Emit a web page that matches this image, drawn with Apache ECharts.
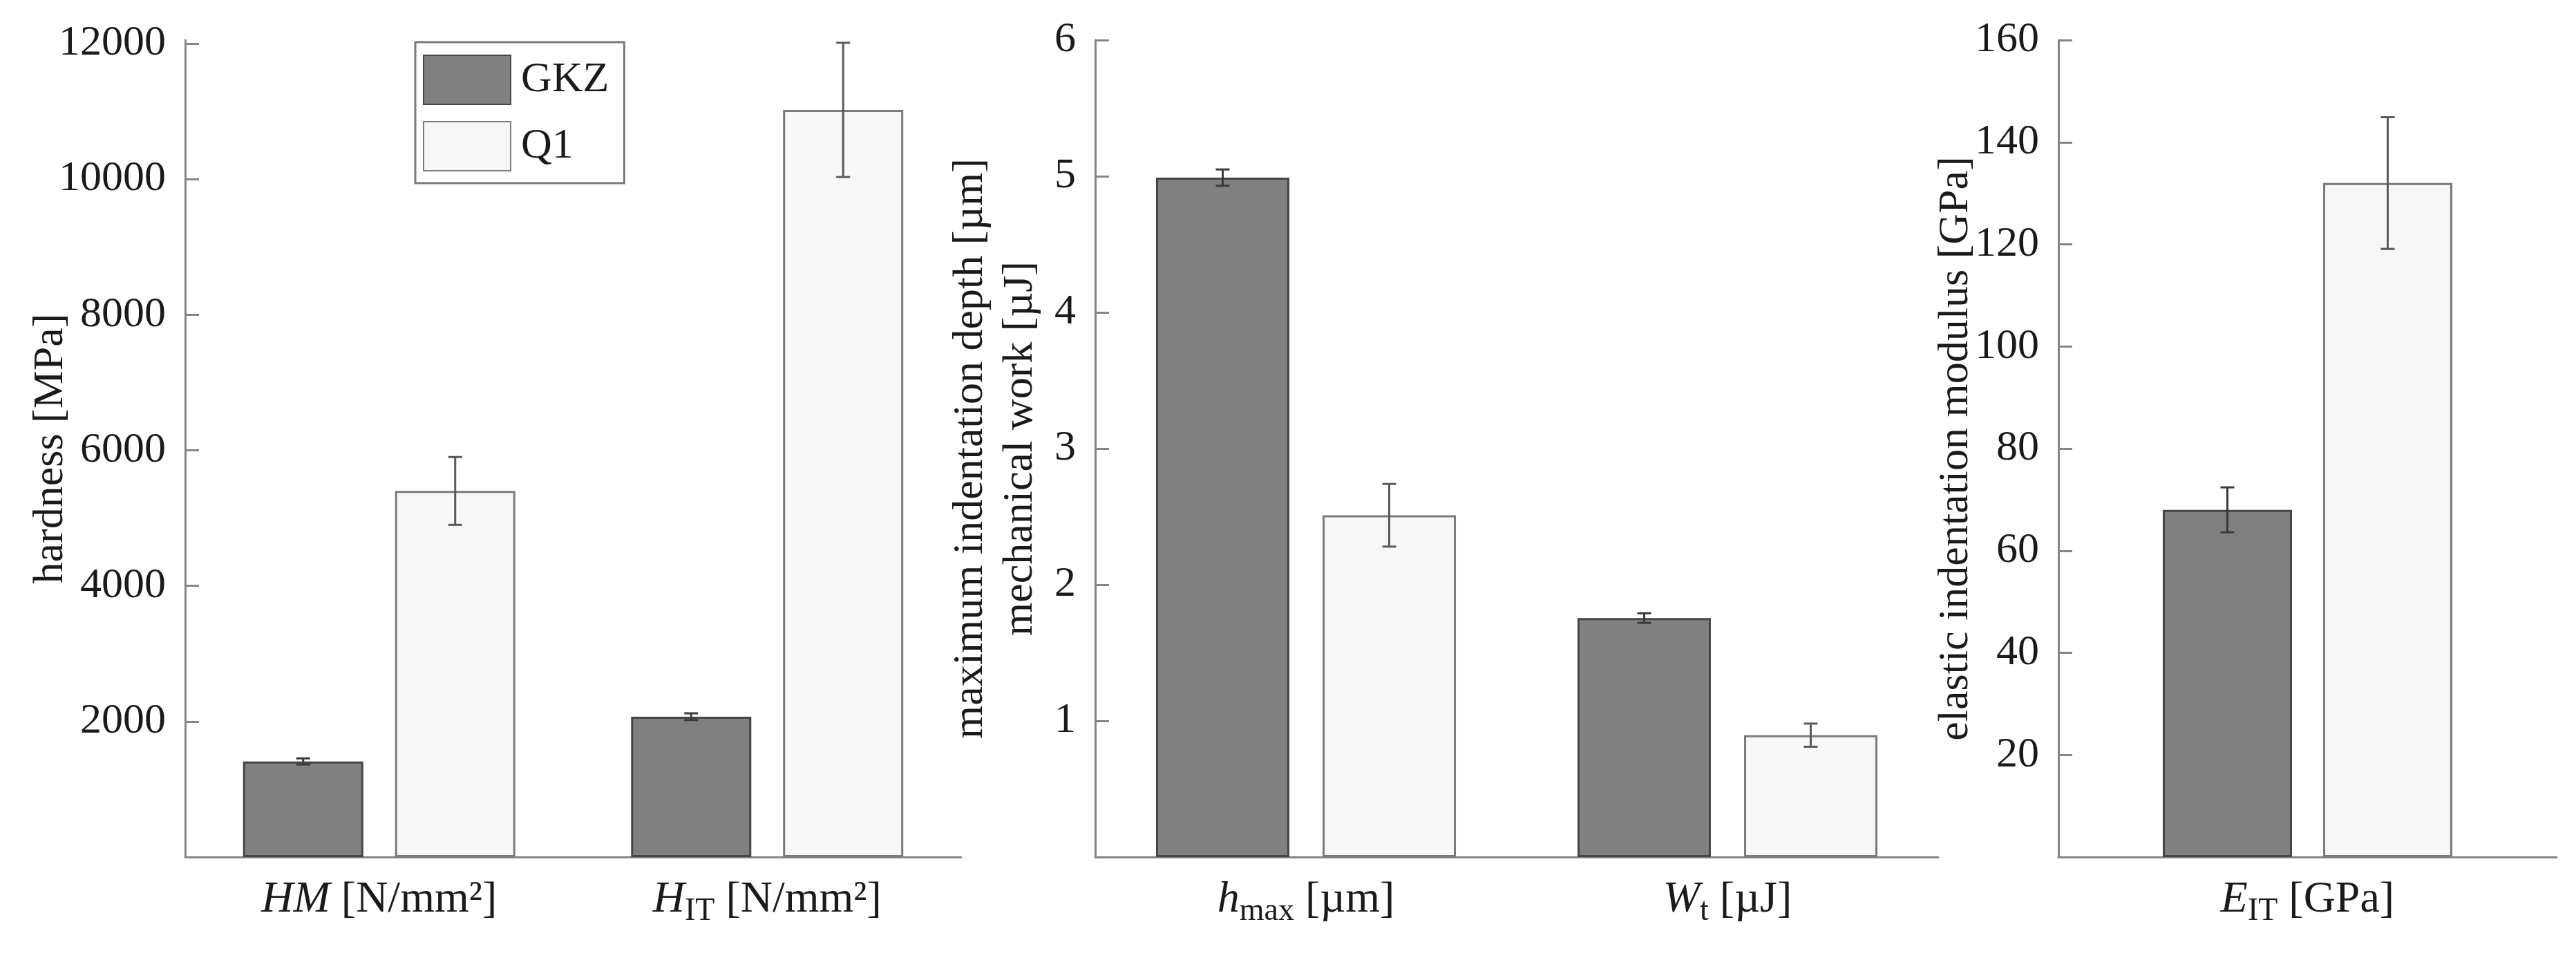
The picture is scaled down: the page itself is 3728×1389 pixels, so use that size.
<!DOCTYPE html>
<html>
<head>
<meta charset="utf-8">
<title>GKZ vs Q1 indentation</title>
<script src="https://cdn.jsdelivr.net/npm/echarts@6/dist/echarts.min.js"></script>
<style>
    html, body { margin: 0; padding: 0; background: #fff; }
    #chart { width: 3728px; height: 1389px; }
</style>
</head>
<body>
<div id="chart"></div>
<script>
// ---- data ----
var seriesNames = ['GKZ', 'Q1'];

// panel 1: hardness
var hardnessCats = ['{i|HM} [N/mm²]', '{i|H}{sub|IT} [N/mm²]'];
var hardnessGkz = [1410, 2070];
var hardnessGkzErr = [45, 50];
var hardnessQ1 = [5400, 11020];
var hardnessQ1Err = [500, 990];
var hardnessTicks = [2000, 4000, 6000, 8000, 10000, 12000];

// panel 2: depth / work
var depthCats = ['{i|h}{sub|max} [µm]', '{i|W}{sub|t} [µJ]'];
var depthGkz = [4.99, 1.755];
var depthGkzErr = [0.06, 0.035];
var depthQ1 = [2.51, 0.895];
var depthQ1Err = [0.23, 0.085];
var depthTicks = [1, 2, 3, 4, 5, 6];

// panel 3: modulus
var modulusCats = ['{i|E}{sub|IT} [GPa]'];
var modulusGkz = [68.0];
var modulusGkzErr = [4.4];
var modulusQ1 = [132];
var modulusQ1Err = [12.9];
var modulusTicks = [20, 40, 60, 80, 100, 120, 140, 160];

var FONT = 'Liberation Serif';
var AXIS_GREY = '#858585';

var chart = echarts.init(document.getElementById('chart'), null, {renderer: 'canvas'});

// pixel geometry of each panel (bar width, gap between the two bars)
var panels = [
    {left: 268, width: 1123, barW: 174, gap: 46, max: 12050, interval: 2000,
        name: 'hardness [MPa]', nameGap: 158,
        cats: hardnessCats, gkz: hardnessGkz, gkzErr: hardnessGkzErr, q1: hardnessQ1, q1Err: hardnessQ1Err, ticks: hardnessTicks},
    {left: 1585, width: 1220, barW: 193, gap: 48, max: 6, interval: 1,
        name: 'maximum indentation depth [µm]\nmechanical work [µJ]', nameGap: 72,
        cats: depthCats, gkz: depthGkz, gkzErr: depthGkzErr, q1: depthQ1, q1Err: depthQ1Err, ticks: depthTicks},
    {left: 2979, width: 721, barW: 187, gap: 45, max: 160, interval: 20,
        name: 'elastic indentation modulus [GPa]', nameGap: 112,
        cats: modulusCats, gkz: modulusGkz, gkzErr: modulusGkzErr, q1: modulusQ1, q1Err: modulusQ1Err, ticks: modulusTicks}
];

// error bar drawer, shifted sideways onto the matching bar
function errorBarRender(offset, color) {
    return function (params, api) {
        var i = api.value(0);
        var m = api.value(1);
        var e = api.value(2);
        var hi = api.coord([i, m + e]);
        var lo = api.coord([i, m - e]);
        var x = hi[0] + offset;
        var hw = 10;
        var st = {stroke: color, lineWidth: 3};
        return {
            type: 'group',
            children: [
                {type: 'line', shape: {x1: x, y1: hi[1], x2: x, y2: lo[1]}, style: st},
                {type: 'line', shape: {x1: x - hw, y1: hi[1], x2: x + hw, y2: hi[1]}, style: st},
                {type: 'line', shape: {x1: x - hw, y1: lo[1], x2: x + hw, y2: lo[1]}, style: st}
            ]
        };
    };
}

var grids = [], xAxes = [], yAxes = [], series = [];

panels.forEach(function (p, k) {
    grids.push({left: p.left, width: p.width, top: 58, bottom: 149});

    xAxes.push({
        type: 'category',
        gridIndex: k,
        data: p.cats,
        axisLine: {lineStyle: {color: AXIS_GREY, width: 3}},
        axisTick: {alignWithLabel: true, inside: true, length: 22, lineStyle: {color: '#8a8a8a', width: 3}},
        axisLabel: {
            interval: 0,
            hideOverlap: false,
            margin: 22,
            color: '#1a1a1a',
            fontFamily: FONT,
            fontSize: 64,
            lineHeight: 80,
            rich: {
                i: {fontStyle: 'italic', fontFamily: FONT, fontSize: 64, lineHeight: 80, color: '#1a1a1a'},
                sub: {fontFamily: FONT, fontSize: 46, lineHeight: 46, verticalAlign: 'bottom', color: '#1a1a1a'}
            }
        }
    });

    yAxes.push({
        type: 'value',
        gridIndex: k,
        min: 0,
        max: p.max,
        interval: p.interval,
        splitLine: {show: false},
        axisLine: {show: true, lineStyle: {color: AXIS_GREY, width: 3}},
        axisTick: {show: true, inside: true, length: 20, customValues: p.ticks, lineStyle: {color: AXIS_GREY, width: 3}},
        axisLabel: {
            customValues: p.ticks, margin: 28, color: '#1a1a1a', fontFamily: FONT, fontSize: 62,
            formatter: function (v) { return String(v); }
        },
        name: p.name,
        nameLocation: 'middle',
        nameGap: p.nameGap,
        nameMoveOverlap: false,
        nameTextStyle: {fontFamily: FONT, fontSize: 62, lineHeight: 72, color: '#1a1a1a'}
    });

    var gapPct = (p.gap / p.barW * 100).toFixed(1) + '%';
    var shift = (p.barW + p.gap) / 2;

    series.push({
        name: seriesNames[0], type: 'bar', xAxisIndex: k, yAxisIndex: k,
        barWidth: p.barW, barGap: gapPct,
        itemStyle: {color: '#808080', borderColor: '#454545', borderWidth: 3},
        data: p.gkz
    });
    series.push({
        name: seriesNames[1], type: 'bar', xAxisIndex: k, yAxisIndex: k,
        barWidth: p.barW, barGap: gapPct,
        itemStyle: {color: '#f7f7f7', borderColor: '#7a7a7a', borderWidth: 3},
        data: p.q1
    });

    // error bars
    series.push({
        name: 'errGKZ' + k, type: 'custom', xAxisIndex: k, yAxisIndex: k, z: 5, clip: false,
        renderItem: errorBarRender(-shift, '#3a3a3a'),
        encode: {x: 0, y: 1},
        data: p.gkz.map(function (v, i) { return [i, v, p.gkzErr[i]]; })
    });
    series.push({
        name: 'errQ1' + k, type: 'custom', xAxisIndex: k, yAxisIndex: k, z: 5, clip: false,
        renderItem: errorBarRender(shift, '#5a5a5a'),
        encode: {x: 0, y: 1},
        data: p.q1.map(function (v, i) { return [i, v, p.q1Err[i]]; })
    });
});

var option = {
    backgroundColor: '#ffffff',
    animation: false,
    legend: {
        data: seriesNames,
        orient: 'vertical',
        left: 601,
        top: 61,
        padding: [18, 22, 17, 11],
        itemWidth: 126,
        itemHeight: 71,
        itemGap: 23,
        icon: 'rect',
        borderColor: '#7a7a7a',
        borderWidth: 3,
        textStyle: {fontFamily: FONT, fontSize: 62, color: '#1a1a1a', padding: [0, 0, 0, 10]}
    },
    grid: grids,
    xAxis: xAxes,
    yAxis: yAxes,
    series: series
};

chart.setOption(option);
</script>
</body>
</html>
